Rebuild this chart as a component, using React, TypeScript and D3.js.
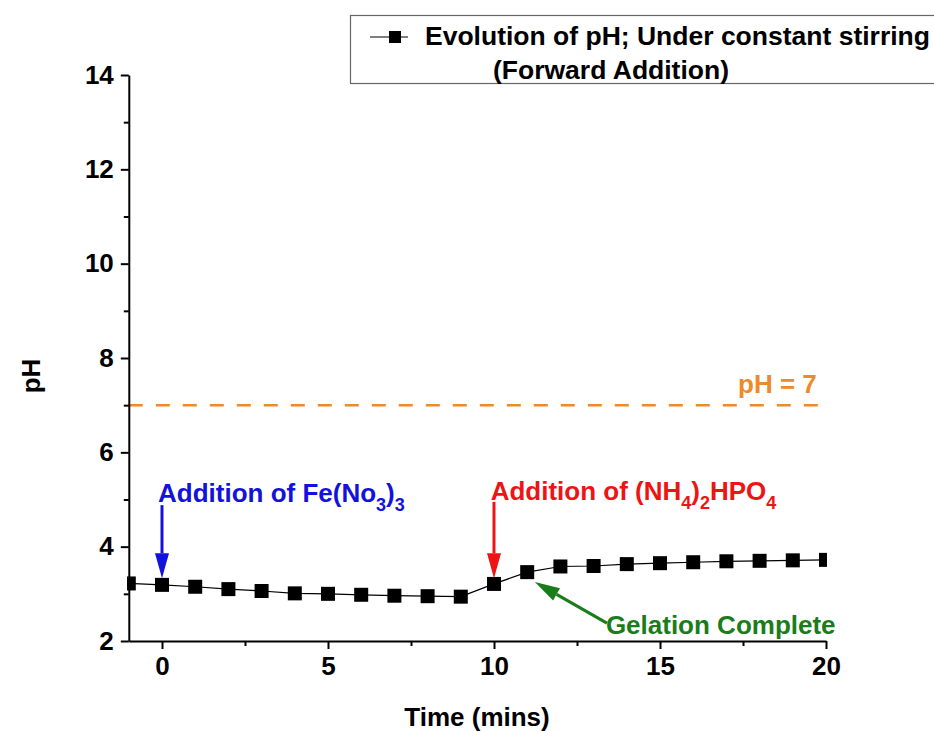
import React, { useEffect, useRef } from "react";
import * as d3 from "d3";

// time in minutes and measured pH
const times = [-1, 0, 1, 2, 3, 4, 5, 6, 7, 8, 9, 10, 11, 12, 13, 14, 15, 16, 17, 18, 19, 20];
const phValues = [3.22, 3.19, 3.15, 3.1, 3.06, 3.01, 3.0, 2.98, 2.96, 2.95, 2.94, 3.21, 3.46, 3.58, 3.59, 3.63, 3.65, 3.67, 3.69, 3.7, 3.71, 3.72];

const xMajorTicks = [0, 5, 10, 15, 20];
const xMinorTicks = [2.5, 7.5, 12.5, 17.5];
const yMajorTicks = [2, 4, 6, 8, 10, 12, 14];
const yMinorTicks = [3, 5, 7, 9, 11, 13];

const legendLines = ["Evolution of pH; Under constant stirring", "(Forward Addition)"];
const neutralPh = 7;

// arrows in data units, tip at "to"
const arrows = [
  { color: "#1212dc", from: [0, 4.88], to: [0, 3.33] },
  { color: "#ee1414", from: [10, 4.95], to: [10, 3.33] },
  { color: "#1a7d1a", from: [13.4, 2.38], to: [11.23, 3.25] },
];

const FONT = "'Liberation Sans', Arial, sans-serif";

export default function App() {
  const ref = useRef<SVGSVGElement>(null);

  useEffect(() => {
    const svg = d3.select(ref.current);
    svg.selectAll("*").remove();

    const x = d3.scaleLinear().domain([-1, 20]).range([128.8, 826]);
    const y = d3.scaleLinear().domain([2, 14]).range([641, 75]);

    svg.append("defs").append("clipPath").attr("id", "plot-clip")
      .append("rect").attr("x", 127).attr("y", 60).attr("width", 700).attr("height", 600);

    // dashed pH = 7 line
    svg.append("line")
      .attr("x1", x(-1)).attr("x2", x(20))
      .attr("y1", y(neutralPh)).attr("y2", y(neutralPh))
      .attr("stroke", "#ec8a2c").attr("stroke-width", 2.5)
      .attr("stroke-dasharray", "14,13");
    svg.append("text")
      .attr("x", x(17.35)).attr("y", y(7.26))
      .attr("fill", "#ec8a2c").attr("font-family", FONT).attr("font-weight", "bold").attr("font-size", 26)
      .text("pH = 7");

    // axes
    const yAxis = svg.append("g").attr("transform", `translate(${x(-1)},0)`)
      .call(d3.axisLeft(y).tickValues(yMajorTicks).tickSize(8).tickSizeOuter(0).tickPadding(7).tickFormat(d3.format("d")));
    svg.append("g").attr("transform", `translate(${x(-1)},0)`)
      .call(d3.axisLeft(y).tickValues(yMinorTicks).tickSize(5).tickSizeOuter(0).tickFormat(() => ""))
      .select(".domain").remove();
    const xAxis = svg.append("g").attr("transform", `translate(0,${y(2)})`)
      .call(d3.axisBottom(x).tickValues(xMajorTicks).tickSize(8).tickSizeOuter(0).tickPadding(8).tickFormat(d3.format("d")));
    svg.append("g").attr("transform", `translate(0,${y(2)})`)
      .call(d3.axisBottom(x).tickValues(xMinorTicks).tickSize(5).tickSizeOuter(0).tickFormat(() => ""))
      .select(".domain").remove();

    svg.selectAll(".domain, .tick line").attr("stroke", "#000").attr("stroke-width", 2);
    [yAxis, xAxis].forEach((g) =>
      g.selectAll("text").attr("font-family", FONT).attr("font-weight", "bold").attr("font-size", 26).attr("fill", "#000")
    );

    svg.append("text")
      .attr("x", 477).attr("y", 726).attr("text-anchor", "middle")
      .attr("font-family", FONT).attr("font-weight", "bold").attr("font-size", 26)
      .text("Time (mins)");
    svg.append("text")
      .attr("transform", "translate(40,376) rotate(-90)").attr("text-anchor", "middle")
      .attr("font-family", FONT).attr("font-weight", "bold").attr("font-size", 26)
      .text("pH");

    // data line + markers
    const pts = times.map((t, i) => [t, phValues[i]] as [number, number]);
    const plot = svg.append("g").attr("clip-path", "url(#plot-clip)");
    plot.append("path")
      .attr("d", d3.line<[number, number]>().x((d) => x(d[0])).y((d) => y(d[1]))(pts))
      .attr("fill", "none").attr("stroke", "#000").attr("stroke-width", 1.2);
    plot.selectAll("rect.pt").data(pts).enter().append("rect")
      .attr("class", "pt")
      .attr("x", (d) => x(d[0]) - 7).attr("y", (d) => y(d[1]) - 7)
      .attr("width", 14).attr("height", 14).attr("fill", "#000");

    // arrows
    arrows.forEach((a) => {
      const x1 = x(a.from[0]), y1 = y(a.from[1]);
      const x2 = x(a.to[0]), y2 = y(a.to[1]);
      const ang = Math.atan2(y2 - y1, x2 - x1);
      const headLen = 25, headW = 7;
      const bx = x2 - headLen * Math.cos(ang), by = y2 - headLen * Math.sin(ang);
      svg.append("line").attr("x1", x1).attr("y1", y1).attr("x2", bx).attr("y2", by)
        .attr("stroke", a.color).attr("stroke-width", 3);
      const nx = -Math.sin(ang), ny = Math.cos(ang);
      svg.append("path")
        .attr("d", `M${x2},${y2}L${bx + nx * headW},${by + ny * headW}L${bx - nx * headW},${by - ny * headW}Z`)
        .attr("fill", a.color);
    });

    // annotation labels (with subscripts)
    const label = (px: number, py: number, color: string, parts: [string, boolean][]) => {
      const t = svg.append("text").attr("x", px).attr("y", py)
        .attr("fill", color).attr("font-family", FONT).attr("font-weight", "bold").attr("font-size", 26);
      let shifted = false;
      parts.forEach(([s, sub]) => {
        const ts = t.append("tspan").text(s);
        if (sub) {
          ts.attr("font-size", 18);
          if (!shifted) ts.attr("dy", 9);
          shifted = true;
        } else if (shifted) {
          ts.attr("dy", -9);
          shifted = false;
        }
      });
    };
    label(x(-0.12), y(4.95), "#1212dc", [["Addition of Fe(No", false], ["3", true], [")", false], ["3", true]]);
    label(x(9.9), y(4.99), "#ee1414", [["Addition of (NH", false], ["4", true], [")", false], ["2", true], ["HPO", false], ["4", true]]);
    label(x(13.37), y(2.15), "#1a7d1a", [["Gelation Complete", false]]);

    // legend
    const lg = svg.append("g");
    lg.append("rect").attr("x", 350.5).attr("y", 15.5).attr("width", 600).attr("height", 68)
      .attr("fill", "#fff").attr("stroke", "#666").attr("stroke-width", 1.2);
    lg.append("line").attr("x1", 370).attr("x2", 408).attr("y1", 37).attr("y2", 37)
      .attr("stroke", "#000").attr("stroke-width", 1.2);
    lg.append("rect").attr("x", 389).attr("y", 31).attr("width", 12).attr("height", 12).attr("fill", "#000");
    lg.append("text").attr("x", 425).attr("y", 45)
      .attr("font-family", FONT).attr("font-weight", "bold").attr("font-size", 26.5).text(legendLines[0]);
    lg.append("text").attr("x", 493).attr("y", 79)
      .attr("font-family", FONT).attr("font-weight", "bold").attr("font-size", 26.5).text(legendLines[1]);
  }, []);

  return (
    <svg
      ref={ref}
      width={934}
      height={731}
      style={{ position: "absolute", left: 0, top: 0, background: "#fff" }}
    />
  );
}
